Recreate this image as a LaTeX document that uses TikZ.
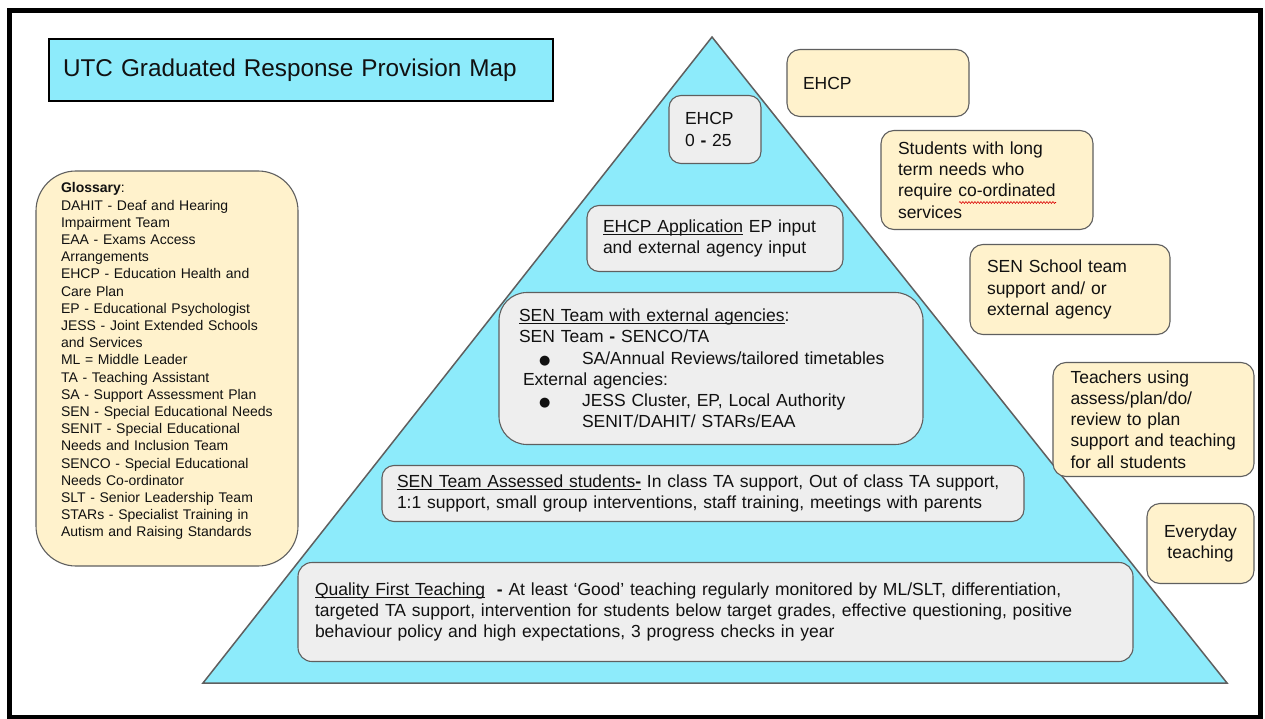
\documentclass[tikz,border=0pt]{standalone}
\usepackage{fontspec}
\setmainfont{Liberation Sans}
\newfontfamily\dejavu{DejaVu Sans}
\usetikzlibrary{decorations.pathmorphing}
\definecolor{cyanfill}{HTML}{8DEBFB}
\definecolor{beigefill}{HTML}{FFF2CC}
\definecolor{grayfill}{HTML}{EEEEEE}
\definecolor{edgegray}{HTML}{5F5F5F}
\definecolor{txt}{HTML}{111111}
\newcommand{\dotbullet}{{\dejavu\fontsize{13}{13}\selectfont ●}}
\newsavebox{\ulbox}
\newcommand{\myul}[1]{\sbox{\ulbox}{#1}\rlap{\raisebox{-2.6pt}{\rule{\wd\ulbox}{0.9pt}}}\usebox{\ulbox}}
\tikzset{
  bodyfont/.style={font=\fontsize{17.5}{21.2}\selectfont, text=txt},
  graybox/.style={bodyfont, draw=edgegray, fill=grayfill, line width=1.1pt,
    rounded corners=12pt, align=left, inner ysep=0pt},
  beigebox/.style={bodyfont, draw=edgegray, fill=beigefill, line width=1.1pt,
    rounded corners=13pt, align=left, inner ysep=0pt},
}
\begin{document}
\begin{tikzpicture}[x=1pt,y=-1pt]
\useasboundingbox (0,0) rectangle (1265,719);
\fill[white] (0,0) rectangle (1265,719);
% outer frame
\draw[line width=5pt, black] (9.5,11) rectangle (1260.5,717);
% title
\node[draw=black, line width=2pt, fill=cyanfill, minimum width=504pt, minimum height=62pt,
  text width=476pt, inner xsep=14pt, align=left, font=\fontsize{24.3}{28}\selectfont, text=txt]
  (title) at (301,70) {UTC Graduated Response Provision Map};
% pyramid
\coordinate (apex) at (712,37);
\coordinate (bl) at (203,683);
\coordinate (br) at (1227,683);
\draw[fill=cyanfill, draw=edgegray, line width=1.5pt, line join=miter] (apex) -- (bl) -- (br) -- cycle;
% pyramid boxes
\node[graybox, minimum width=92pt, minimum height=68pt, text width=60pt, inner xsep=16pt]
  (ehcptop) at (715,129.5) {EHCP\\0 \textbf{-} 25};
\node[graybox, minimum width=256pt, minimum height=66pt, text width=224pt, inner xsep=16pt]
  (ehcpapp) at (715,238.5) {\myul{EHCP Application} EP input\\and external agency input};
\node[graybox, rounded corners=28pt, minimum width=424pt, minimum height=152pt, text width=384pt, inner xsep=20pt]
  (senext) at (711,368.5) {\myul{SEN Team with external agencies}:\\
  SEN Team \textbf{-} SENCO/TA\\
  \hspace*{20pt}\makebox[43pt][l]{\dotbullet}SA/Annual Reviews/tailored timetables\\
  \hspace*{4pt}External agencies:\\
  \hspace*{20pt}\makebox[43pt][l]{\dotbullet}JESS Cluster, EP, Local Authority\\
  \hspace*{63pt}SENIT/DAHIT/ STARs/EAA};
\node[graybox, minimum width=642pt, minimum height=56pt, text width=612pt, inner xsep=15pt]
  (senassess) at (703,493.5) {\myul{SEN Team Assessed students\textbf{-}} In class TA support, Out of class TA support,\\
  1:1 support, small group interventions, staff training, meetings with parents};
\node[graybox, rounded corners=14pt, minimum width=835pt, minimum height=99pt, text width=801pt, inner xsep=17pt]
  (qft) at (715.5,612) {\myul{Quality First Teaching}\ \ \textbf{-} At least ‘Good’ teaching regularly monitored by ML/SLT, differentiation,\\
  targeted TA support, intervention for students below target grades, effective questioning, positive\\
  behaviour policy and high expectations, 3 progress checks in year};
% right boxes
\node[beigebox, minimum width=182pt, minimum height=67pt, text width=150pt, inner xsep=16pt]
  (rehcp) at (878,83) {EHCP};
\node[beigebox, minimum width=212pt, minimum height=99pt, text width=178pt, inner xsep=17pt]
  (rstud) at (987,180) {Students with long\\term needs who\\require co-ordinated\\services};
\node[beigebox, minimum width=200pt, minimum height=90pt, text width=166pt, inner xsep=17pt]
  (rsen) at (1070,289.5) {SEN School team\\support and/ or\\external agency};
\node[beigebox, minimum width=201pt, minimum height=114pt, text width=172pt, inner xsep=14.5pt]
  (rteach) at (1153.5,419.5) {\hspace*{3pt}Teachers using\\\hspace*{3pt}assess/plan/do/\\\hspace*{3pt}review to plan\\\hspace*{3pt}support and teaching\\\hspace*{3pt}for all students};
\node[beigebox, align=center, minimum width=107pt, minimum height=80pt, text width=91pt, inner xsep=8pt]
  (revery) at (1200.5,543.5) {Everyday\\teaching};
% spell-check squiggle
\coordinate (sqa) at (959,202.5);
\coordinate (sqb) at (1056,202.5);
\draw[red!85!black, line width=0.6pt, decorate, decoration={snake, amplitude=0.9pt, segment length=3pt}] (sqa) -- (sqb);
% glossary
\node[beigebox, rounded corners=40pt, minimum width=262pt, minimum height=395pt, text width=212pt, inner xsep=25pt,
  font=\fontsize{14}{17.2}\selectfont]
  (gloss) at (167,368.5) {\textbf{Glossary}:\\
  DAHIT - Deaf and Hearing\\
  Impairment Team\\
  EAA - Exams Access\\
  Arrangements\\
  EHCP - Education Health and\\
  Care Plan\\
  EP - Educational Psychologist\\
  JESS - Joint Extended Schools\\
  and Services\\
  ML = Middle Leader\\
  TA - Teaching Assistant\\
  SA - Support Assessment Plan\\
  SEN - Special Educational Needs\\
  SENIT - Special Educational\\
  Needs and Inclusion Team\\
  SENCO - Special Educational\\
  Needs Co-ordinator\\
  SLT - Senior Leadership Team\\
  STARs - Specialist Training in\\
  Autism and Raising Standards\\
  \mbox{}};
\end{tikzpicture}
\end{document}
